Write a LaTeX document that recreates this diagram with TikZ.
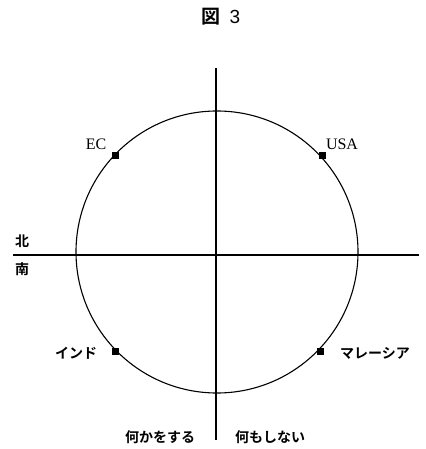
\documentclass[tikz,border=0pt]{standalone}
\usepackage{fontspec}
\setmainfont{Liberation Serif}
\newfontfamily\jp{Noto Sans CJK JP Bold}
\newfontfamily\jpb{Noto Sans CJK JP Bold}
\newfontfamily\lsans{Liberation Sans}
\begin{document}
\begin{tikzpicture}[x=1pt,y=-1pt,
  jlab/.style={font=\jp\fontsize{14}{14}\selectfont, inner sep=0pt},
  elab/.style={font=\fontsize{16}{16}\selectfont, inner sep=0pt},
  marker/.style={fill=black, minimum size=7pt, inner sep=0pt, draw=none, rectangle},
  axis/.style={line width=1.4pt},
  ring/.style={line width=1.1pt}]
\useasboundingbox (0,0) rectangle (425,449);
% title
\node[inner sep=0pt, font=\fontsize{19}{19}\selectfont] (title) at (221,17) {{\jpb 図}\hspace{9pt}{\lsans 3}};
% circle
\coordinate (c) at (217,252);
\draw[ring] (c) circle (141);
% axes
\coordinate (hl) at (13,255);
\coordinate (hr) at (419,255);
\coordinate (vt) at (216,68);
\coordinate (vb) at (216,440);
\draw[axis] (hl) -- (hr);
\draw[line width=1.1pt] (vt) -- (vb);
% markers
\node[marker] (ec) at (115,156) {};
\node[marker] (usa) at (322,156) {};
\node[marker] (ind) at (115,351) {};
\node[marker] (mal) at (320,351) {};
% labels
\node[elab] (ecl) at (96,144) {EC};
\node[elab] (usal) at (342,144) {USA};
\node[jlab] (indl) at (76,353) {インド};
\node[jlab] (mall) at (375,353) {マレーシア};
\node[jlab] (north) at (22,241) {北};
\node[jlab] (south) at (22,269) {南};
\node[jlab] (doing) at (160,437) {何かをする};
\node[jlab] (notdoing) at (270,437) {何もしない};
\end{tikzpicture}
\end{document}
